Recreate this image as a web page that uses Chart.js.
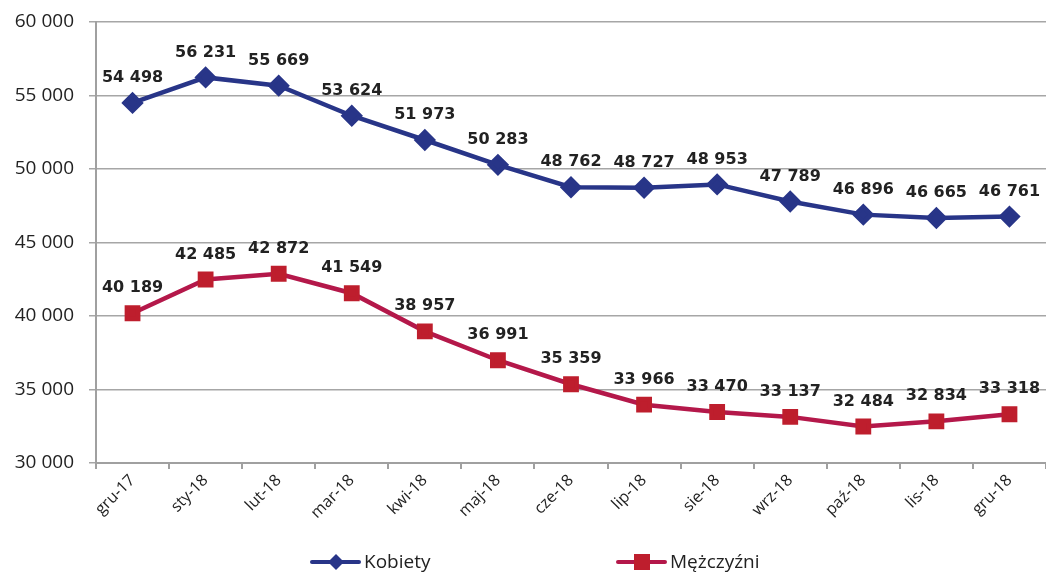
<!DOCTYPE html>
<html>
<head>
<meta charset="utf-8">
<script src="https://cdn.jsdelivr.net/npm/chart.js@4/dist/chart.umd.min.js"></script>
<style>
  html, body { margin: 0; padding: 0; background: #fff; overflow: hidden; }
  #wrap { width: 1046px; height: 573px; position: relative; }
  canvas { display: block; }
</style>
</head>
<body>
<div id="wrap"><canvas id="lineChart"></canvas></div>
<script>
// Datos del gráfico
const miesiace = ['gru-17', 'sty-18', 'lut-18', 'mar-18', 'kwi-18', 'maj-18', 'cze-18', 'lip-18', 'sie-18', 'wrz-18', 'paź-18', 'lis-18', 'gru-18'];
const kobiety = [54498, 56231, 55669, 53624, 51973, 50283, 48762, 48727, 48953, 47789, 46896, 46665, 46761];
const mezczyzni = [40189, 42485, 42872, 41549, 38957, 36991, 35359, 33966, 33470, 33137, 32484, 32834, 33318];
const nazwySerii = ['Kobiety', 'Mężczyźni'];

const formatNum = (v) => String(v).replace(/\B(?=(\d{3})+(?!\d))/g, ' ');

// Etykiety z wartościami nad punktami
const etykietyPlugin = {
    id: 'etykiety',
    afterDatasetsDraw(chart) {
        const ctx = chart.ctx;
        ctx.save();
        ctx.font = 'bold 16px "DejaVu Sans"';
        ctx.fillStyle = '#222';
        ctx.textAlign = 'center';
        ctx.textBaseline = 'middle';
        chart.data.datasets.forEach((ds, i) => {
            chart.getDatasetMeta(i).data.forEach((pt, j) => {
                ctx.fillText(formatNum(ds.data[j]), pt.x, pt.y - 25);
            });
        });
        ctx.restore();
    }
};

// Leyenda con línea y marcador
const leyendaPlugin = {
    id: 'leyenda',
    afterDraw(chart) {
        const ctx = chart.ctx;
        const pozycje = [312, 618];
        const y = 562;
        ctx.save();
        chart.data.datasets.forEach((ds, i) => {
            const x0 = pozycje[i];
            ctx.strokeStyle = ds.borderColor;
            ctx.lineWidth = 4;
            ctx.lineCap = 'round';
            ctx.beginPath();
            ctx.moveTo(x0, y);
            ctx.lineTo(x0 + 47, y);
            ctx.stroke();
            ctx.fillStyle = ds.pointBackgroundColor;
            const cx = x0 + 24;
            if (ds.pointStyle === 'rectRot') {
                ctx.beginPath();
                ctx.moveTo(cx, y - 8);
                ctx.lineTo(cx + 8, y);
                ctx.lineTo(cx, y + 8);
                ctx.lineTo(cx - 8, y);
                ctx.closePath();
                ctx.fill();
            } else {
                ctx.fillRect(cx - 8, y - 8, 16, 16);
            }
            ctx.fillStyle = '#222';
            ctx.font = '19px "Open Sans"';
            ctx.textAlign = 'left';
            ctx.textBaseline = 'middle';
            ctx.fillText(ds.label, x0 + 52, y + 1);
        });
        ctx.restore();
    }
};

const sinPadding = (s) => { s.paddingLeft = 0; s.paddingRight = 0; s.paddingTop = 0; s.paddingBottom = 0; };

const config = {
    type: 'line',
    data: {
        labels: miesiace,
        datasets: [
            {
                label: nazwySerii[0],
                data: kobiety,
                borderColor: '#283588',
                backgroundColor: '#283588',
                pointBackgroundColor: '#283588',
                pointBorderColor: '#283588',
                pointStyle: 'rectRot',
                pointRadius: 8,
                borderWidth: 4.5,
                fill: false,
                tension: 0
            },
            {
                label: nazwySerii[1],
                data: mezczyzni,
                borderColor: '#B4184A',
                backgroundColor: '#BE1E2D',
                pointBackgroundColor: '#BE1E2D',
                pointBorderColor: '#BE1E2D',
                pointStyle: 'rect',
                pointRadius: 8,
                borderWidth: 4.5,
                fill: false,
                tension: 0
            }
        ]
    },
    options: {
        responsive: true,
        maintainAspectRatio: false,
        animation: false,
        layout: { autoPadding: false, padding: { top: 22, right: -3, bottom: 0, left: 0 } },
        plugins: {
            legend: { display: false },
            tooltip: { enabled: false }
        },
        scales: {
            x: {
                offset: true,
                afterFit: (s) => { s.height = 110; sinPadding(s); },
                grid: { drawOnChartArea: false, drawTicks: true, offset: true, tickLength: 6, color: '#a0a0a0', lineWidth: 2 },
                border: { color: '#a0a0a0', width: 2 },
                ticks: {
                    color: '#222',
                    font: { family: 'Open Sans', size: 16 },
                    maxRotation: 45,
                    minRotation: 45,
                    autoSkip: false,
                    padding: 2
                }
            },
            y: {
                min: 30000,
                max: 60000,
                afterFit: (s) => { s.width = 96; sinPadding(s); },
                grid: { color: '#a6a6a6', lineWidth: 1.5, tickLength: 7 },
                border: { color: '#a0a0a0', width: 2 },
                ticks: {
                    stepSize: 5000,
                    color: '#222',
                    font: { family: 'Open Sans', size: 19 },
                    padding: 15,
                    callback: (v) => formatNum(v)
                }
            }
        }
    },
    plugins: [etykietyPlugin, leyendaPlugin]
};

new Chart(document.getElementById('lineChart'), config);
</script>
</body>
</html>
